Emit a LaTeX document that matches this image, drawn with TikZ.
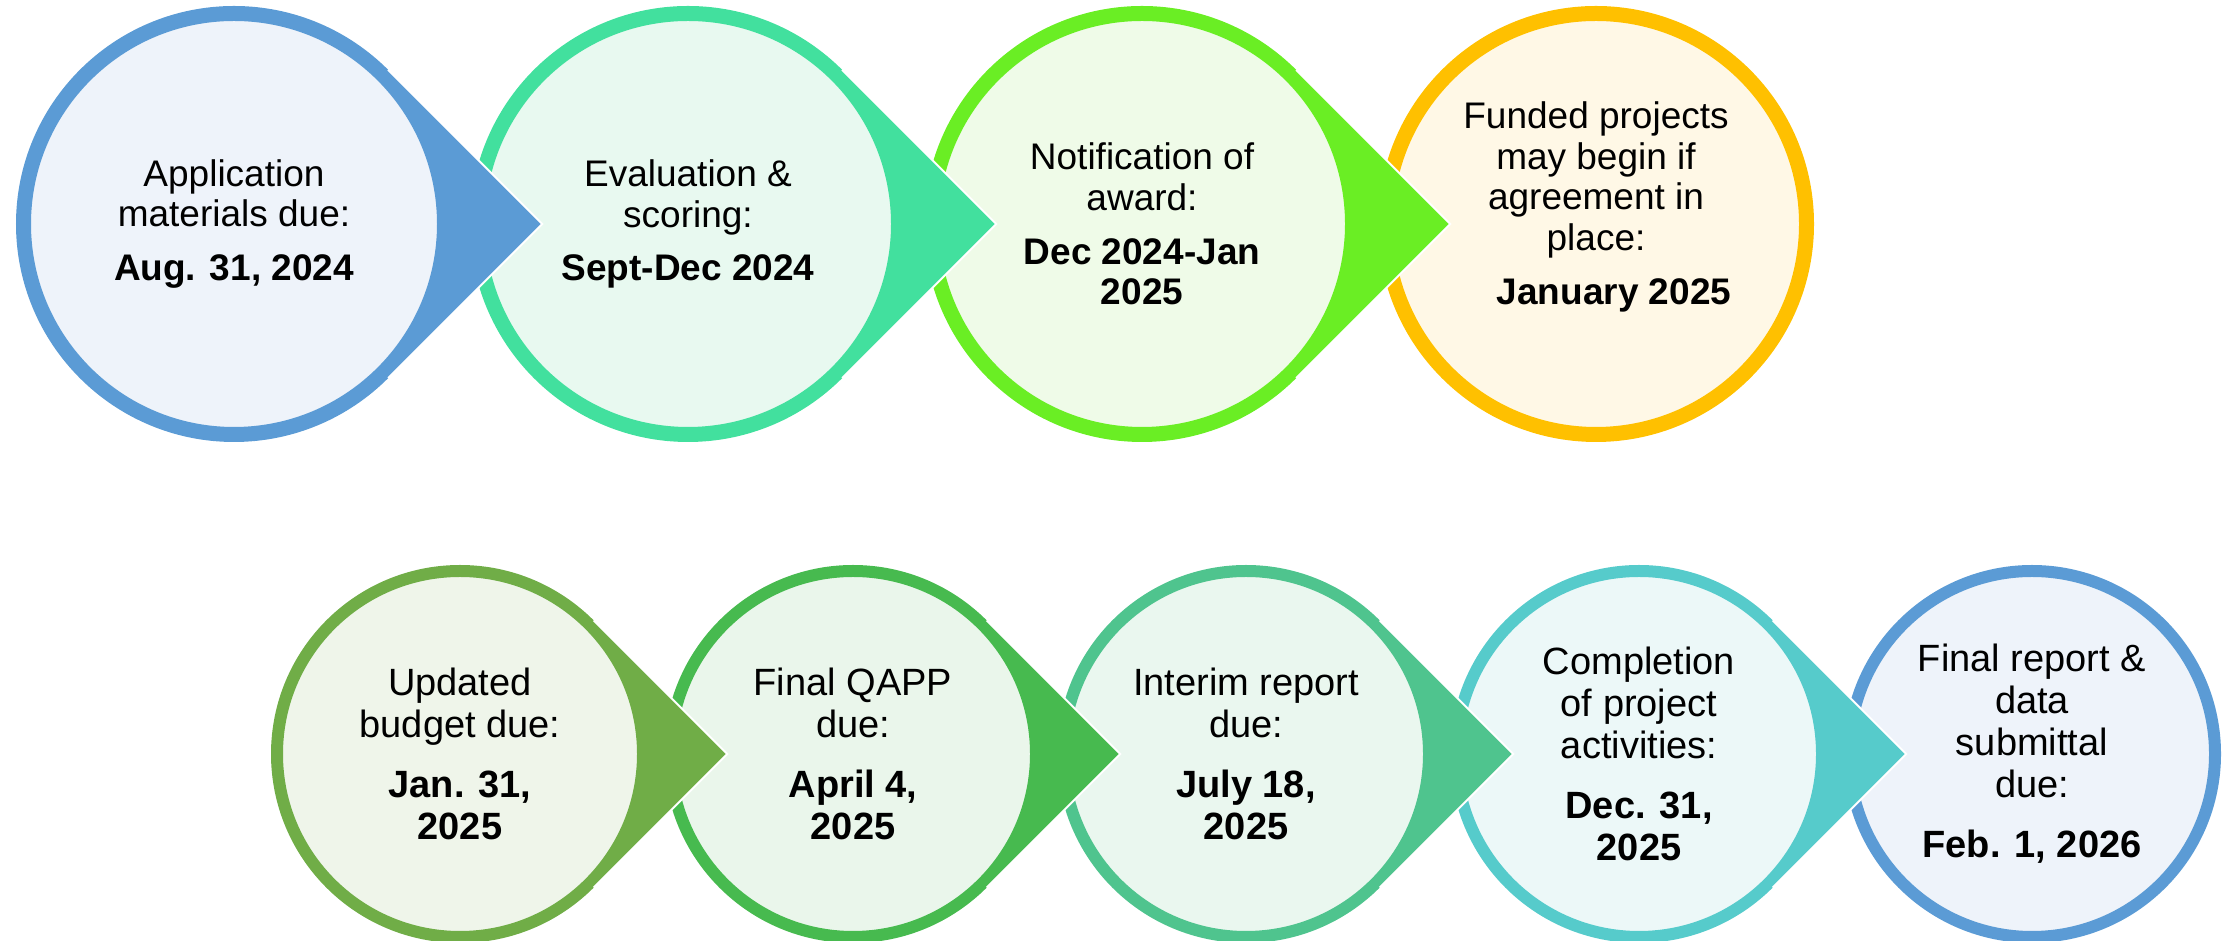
\documentclass[tikz,border=0pt]{standalone}
\usepackage{fontspec}
\setmainfont{Liberation Sans}
\usetikzlibrary{calc}
\definecolor{blueA}{HTML}{5B9BD5}
\definecolor{blueL}{HTML}{EEF3FA}
\definecolor{mintA}{HTML}{42E09E}
\definecolor{mintL}{HTML}{E8F9F0}
\definecolor{limeA}{HTML}{6AEE24}
\definecolor{limeL}{HTML}{EFFBE8}
\definecolor{amberA}{HTML}{FFC000}
\definecolor{amberL}{HTML}{FFF8E6}
\definecolor{oliveA}{HTML}{70AD47}
\definecolor{oliveL}{HTML}{EFF5EA}
\definecolor{greenA}{HTML}{47BA4F}
\definecolor{greenL}{HTML}{EAF6EB}
\definecolor{seaA}{HTML}{4FC48E}
\definecolor{seaL}{HTML}{EAF7EF}
\definecolor{tealA}{HTML}{56CBCB}
\definecolor{tealL}{HTML}{ECF8F8}
\tikzstyle{topstage} = [circle, minimum size=210.5pt, inner sep=0pt, line width=7.5pt, align=center, font=\fontsize{18.5pt}{20.3pt}\selectfont]
\tikzstyle{lowstage} = [circle, minimum size=183pt, inner sep=0pt, line width=6pt, align=center, font=\fontsize{19pt}{21pt}\selectfont]
\tikzstyle{tipedge} = [white, line width=1pt]

\begin{document}
\begin{tikzpicture}[x=0.5pt, y=0.5pt, node distance=227pt]
    \useasboundingbox (0,0) rectangle (2226,941);

    % top row
    \node (app) [topstage, draw=blueA, fill=blueL] at (234,717) {Application\\materials due:\\[6.5pt]\textbf{Aug. 31, 2024}};
    \node (eval) [topstage, draw=mintA, fill=mintL, right of=app] {Evaluation \&\\scoring:\\[6.5pt]\textbf{Sept-Dec 2024}};
    \node (notif) [topstage, draw=limeA, fill=limeL, right of=eval] {Notification of\\award:\\[6.5pt]\textbf{Dec 2024-Jan}\\\textbf{2025}};
    \node (fund) [topstage, draw=amberA, fill=amberL, right of=notif, text depth=21pt] {Funded projects\\may begin if\\agreement in\\place:\\[6.5pt]\hspace*{18pt}\textbf{January 2025}};

    % bottom row
    \node (budget) [lowstage, draw=oliveA, fill=oliveL] at (460,187) {Updated\\budget due:\\[9pt]\textbf{Jan. 31,}\\\textbf{2025}};
    \node (qapp) [lowstage, draw=greenA, fill=greenL, right of=budget, node distance=196.5pt] {Final QAPP\\due:\\[9pt]\textbf{April 4,}\\\textbf{2025}};
    \node (interim) [lowstage, draw=seaA, fill=seaL, right of=qapp, node distance=196.5pt] {Interim report\\due:\\[9pt]\textbf{July 18,}\\\textbf{2025}};
    \node (compl) [lowstage, draw=tealA, fill=tealL, right of=interim, node distance=196.5pt] {Completion\\of project\\activities:\\[9pt]\textbf{Dec. 31,}\\\textbf{2025}};
    \node (final) [lowstage, draw=blueA, fill=blueL, right of=compl, node distance=196.5pt] {Final report \&\\data\\submittal\\due:\\[9pt]\textbf{Feb. 1, 2026}};

    % pointed tips
    \fill[blueA] (app.45) -- ($(app.center)!1.41421!(app.east)$) -- (app.-45) -- ++(135:2pt) arc[start angle=-45, end angle=45, radius=107pt] -- cycle;
    \draw[tipedge] (app.45) -- ($(app.center)!1.41421!(app.east)$) -- (app.-45);
    \fill[mintA] (eval.45) -- ($(eval.center)!1.41421!(eval.east)$) -- (eval.-45) -- ++(135:2pt) arc[start angle=-45, end angle=45, radius=107pt] -- cycle;
    \draw[tipedge] (eval.45) -- ($(eval.center)!1.41421!(eval.east)$) -- (eval.-45);
    \fill[limeA] (notif.45) -- ($(notif.center)!1.41421!(notif.east)$) -- (notif.-45) -- ++(135:2pt) arc[start angle=-45, end angle=45, radius=107pt] -- cycle;
    \draw[tipedge] (notif.45) -- ($(notif.center)!1.41421!(notif.east)$) -- (notif.-45);

    \fill[oliveA] (budget.45) -- ($(budget.center)!1.41421!(budget.east)$) -- (budget.-45) -- ++(135:2pt) arc[start angle=-45, end angle=45, radius=92.5pt] -- cycle;
    \draw[tipedge] (budget.45) -- ($(budget.center)!1.41421!(budget.east)$) -- (budget.-45);
    \fill[greenA] (qapp.45) -- ($(qapp.center)!1.41421!(qapp.east)$) -- (qapp.-45) -- ++(135:2pt) arc[start angle=-45, end angle=45, radius=92.5pt] -- cycle;
    \draw[tipedge] (qapp.45) -- ($(qapp.center)!1.41421!(qapp.east)$) -- (qapp.-45);
    \fill[seaA] (interim.45) -- ($(interim.center)!1.41421!(interim.east)$) -- (interim.-45) -- ++(135:2pt) arc[start angle=-45, end angle=45, radius=92.5pt] -- cycle;
    \draw[tipedge] (interim.45) -- ($(interim.center)!1.41421!(interim.east)$) -- (interim.-45);
    \fill[tealA] (compl.45) -- ($(compl.center)!1.41421!(compl.east)$) -- (compl.-45) -- ++(135:2pt) arc[start angle=-45, end angle=45, radius=92.5pt] -- cycle;
    \draw[tipedge] (compl.45) -- ($(compl.center)!1.41421!(compl.east)$) -- (compl.-45);
\end{tikzpicture}
\end{document}
